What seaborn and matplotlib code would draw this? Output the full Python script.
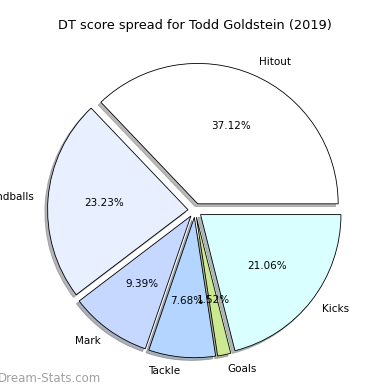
import matplotlib
matplotlib.use("Agg")
import matplotlib.pyplot as plt
import seaborn as sns

sns.set_style("white")
plt.rcParams["font.family"] = ["DejaVu Sans"]
plt.rcParams["text.color"] = "black"

labels = ["Hitout", "Handballs", "Mark", "Tackle", "Goals", "Kicks"]
shares = [37.12, 23.23, 9.39, 7.68, 1.52, 21.06]
colours = ["#ffffff", "#e8f0ff", "#c6d8ff", "#b3d5ff", "#cce890", "#d9ffff"]

fig = plt.figure(figsize=(3.9, 3.9), dpi=100)
ax = fig.add_axes([0.0, 0.0, 1.0, 0.9])
ax.pie(shares, labels=labels, colors=colours, autopct="%1.2f%%",
       explode=[0.05] * len(shares),
       shadow={"ox": -0.014, "oy": -0.014, "shade": 0.55},
       startangle=0, radius=1.0, textprops={"fontsize": 7.5, "color": "black"},
       wedgeprops={"edgecolor": "black", "linewidth": 0.6})
ax.set_xlim(-1.25, 1.25)
ax.set_ylim(-1.28, 1.22)
ax.set_aspect("equal")
fig.suptitle("DT score spread for Todd Goldstein (2019)", fontsize=9.3, y=0.95,
             color="black")
fig.text(-0.005, 0.02, "Dream-Stats.com", color="#a0a0a0", fontsize=8.5)
fig.savefig("out.png", dpi=100)
